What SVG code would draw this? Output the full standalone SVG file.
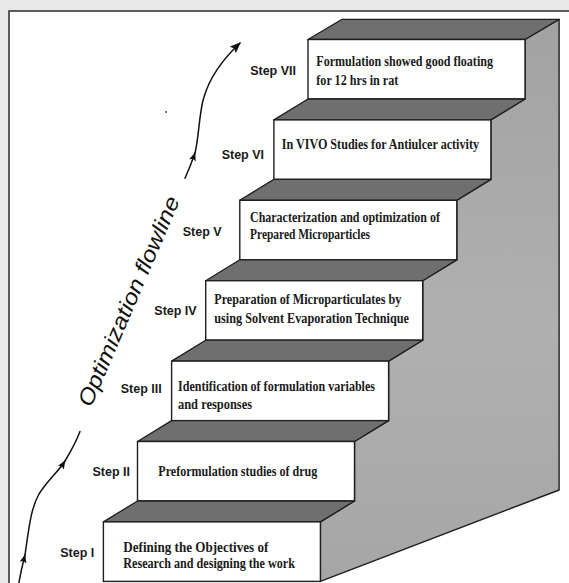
<svg xmlns="http://www.w3.org/2000/svg" width="569" height="583" viewBox="0 0 569 583">
<defs>
<linearGradient id="sideg" x1="0" y1="0" x2="0" y2="1">
<stop offset="0" stop-color="#a2a2a2"/>
<stop offset="0.55" stop-color="#b0b0b0"/>
<stop offset="1" stop-color="#a6a6a6"/>
</linearGradient>
<marker id="ahs" viewBox="0 0 10 8" refX="9" refY="4" markerWidth="9" markerHeight="7" orient="auto" markerUnits="userSpaceOnUse">
<path d="M0,0 L10,4 L0,8 L2,4 z" fill="#111"/>
</marker>
<marker id="ahl" viewBox="0 0 10 8" refX="9" refY="4" markerWidth="12" markerHeight="9" orient="auto" markerUnits="userSpaceOnUse">
<path d="M0,0 L10,4 L0,8 L2,4 z" fill="#111"/>
</marker>
</defs>
<style>
.box{fill:#ffffff;stroke:#1e1e1e;stroke-width:1.4}
.tread{fill:#6f6f6f;stroke:#1e1e1e;stroke-width:1.3;stroke-linejoin:round}
.side{fill:url(#sideg);stroke:#1e1e1e;stroke-width:1.4;stroke-linejoin:round}
.bt{font-family:"Liberation Serif","Times New Roman",serif;font-weight:bold;font-size:15px;fill:#1a1a1a}
.sl{font-family:"Liberation Sans",Arial,sans-serif;font-weight:bold;font-size:12.5px;fill:#1a1a1a;text-anchor:end}
.flow{fill:none;stroke:#111;stroke-width:1.5;stroke-linecap:round}
.ttl{font-family:"Liberation Sans",Arial,sans-serif;font-style:italic;font-size:22px;fill:#111}
</style>
<rect x="0" y="0" width="569" height="583" fill="#e8e8e8"/>
<rect x="9" y="11" width="600" height="600" fill="#ffffff" stroke="#2a2a2a" stroke-width="1.5"/>

<polygon class="side" points="559.1,19.3 559.1,490 320.4,581.4 320.4,521.9 354.5,501 354.5,441.5 388.6,420.6 388.6,361.1 422.7,340.2 422.7,280.7 456.8,259.8 456.8,200.3 490.9,179.4 490.9,119.9 525,99 525,39.5"/>

<g id="step7">
<polygon class="tread" points="308,39.5 342.1,19.3 559.1,19.3 525,39.5"/>
<rect class="box" x="308" y="39.5" width="217" height="59.5"/>
<text class="sl" x="296" y="74.5">Step VII</text>
<text class="bt" x="316.3" y="66" textLength="176.7" lengthAdjust="spacingAndGlyphs">Formulation showed good floating</text>
<text class="bt" x="316.3" y="84.5" textLength="82" lengthAdjust="spacingAndGlyphs">for 12 hrs in rat</text>
</g>
<g id="step6">
<polygon class="tread" points="273.9,119.9 308,99 525,99 490.9,119.9"/>
<rect class="box" x="273.9" y="119.9" width="217" height="59.5"/>
<text class="sl" x="264" y="159">Step VI</text>
<text class="bt" x="281.7" y="149.3" textLength="197.3" lengthAdjust="spacingAndGlyphs">In VIVO Studies for Antiulcer activity</text>
</g>
<g id="step5">
<polygon class="tread" points="239.8,200.3 273.9,179.4 490.9,179.4 456.8,200.3"/>
<rect class="box" x="239.8" y="200.3" width="217" height="59.5"/>
<text class="sl" x="221.7" y="235.7">Step V</text>
<text class="bt" x="250" y="222.3" textLength="190" lengthAdjust="spacingAndGlyphs">Characterization and optimization of</text>
<text class="bt" x="250" y="239.3" textLength="120" lengthAdjust="spacingAndGlyphs">Prepared Microparticles</text>
</g>
<g id="step4">
<polygon class="tread" points="205.7,280.7 239.8,259.8 456.8,259.8 422.7,280.7"/>
<rect class="box" x="205.7" y="280.7" width="217" height="59.5"/>
<text class="sl" x="196.7" y="315">Step IV</text>
<text class="bt" x="214.3" y="304" textLength="187" lengthAdjust="spacingAndGlyphs">Preparation of Microparticulates by</text>
<text class="bt" x="214.3" y="323" textLength="194.7" lengthAdjust="spacingAndGlyphs">using Solvent Evaporation Technique</text>
</g>
<g id="step3">
<polygon class="tread" points="171.6,361.1 205.7,340.2 422.7,340.2 388.6,361.1"/>
<rect class="box" x="171.6" y="361.1" width="217" height="59.5"/>
<text class="sl" x="161.7" y="392.7">Step III</text>
<text class="bt" x="178" y="391" textLength="197" lengthAdjust="spacingAndGlyphs">Identification of formulation variables</text>
<text class="bt" x="178" y="409.3" textLength="74" lengthAdjust="spacingAndGlyphs">and responses</text>
</g>
<g id="step2">
<polygon class="tread" points="137.5,441.5 171.6,420.6 388.6,420.6 354.5,441.5"/>
<rect class="box" x="137.5" y="441.5" width="217" height="59.5"/>
<text class="sl" x="130" y="475.5">Step II</text>
<text class="bt" x="158.3" y="476" textLength="159" lengthAdjust="spacingAndGlyphs">Preformulation studies of drug</text>
</g>
<g id="step1">
<polygon class="tread" points="103.4,521.9 137.5,501 354.5,501 320.4,521.9"/>
<rect class="box" x="103.4" y="521.9" width="217" height="59.5"/>
<text class="sl" x="94.3" y="557">Step I</text>
<text class="bt" x="123.3" y="551.7" textLength="145" lengthAdjust="spacingAndGlyphs">Defining the Objectives of</text>
<text class="bt" x="123.3" y="568.3" textLength="171.7" lengthAdjust="spacingAndGlyphs">Research and designing the work</text>
</g>

<g id="flowline">
<text class="ttl" transform="translate(91,408) rotate(-66.8)" x="0" y="0" textLength="226" lengthAdjust="spacingAndGlyphs">Optimization flowline</text>
<circle cx="166" cy="112" r="0.9" fill="#333"/>
</g>

<g id="connectors">
<path class="flow" d="M18.5,585 Q21,570 25,555" marker-end="url(#ahs)"/>
<path class="flow" d="M25,555 C29,527 31,508 39,494 C47,481 58,472 65,461" marker-end="url(#ahs)"/>
<path class="flow" d="M65,461 C71,451 76,442 80,431.5"/>
<path class="flow" d="M185,178.3 Q190.5,166 195,153" marker-end="url(#ahs)"/>
<path class="flow" d="M195,153 C199,138 199,112 204,97 C209,80 222,60 240,43" marker-end="url(#ahl)"/>
</g>
</svg>
